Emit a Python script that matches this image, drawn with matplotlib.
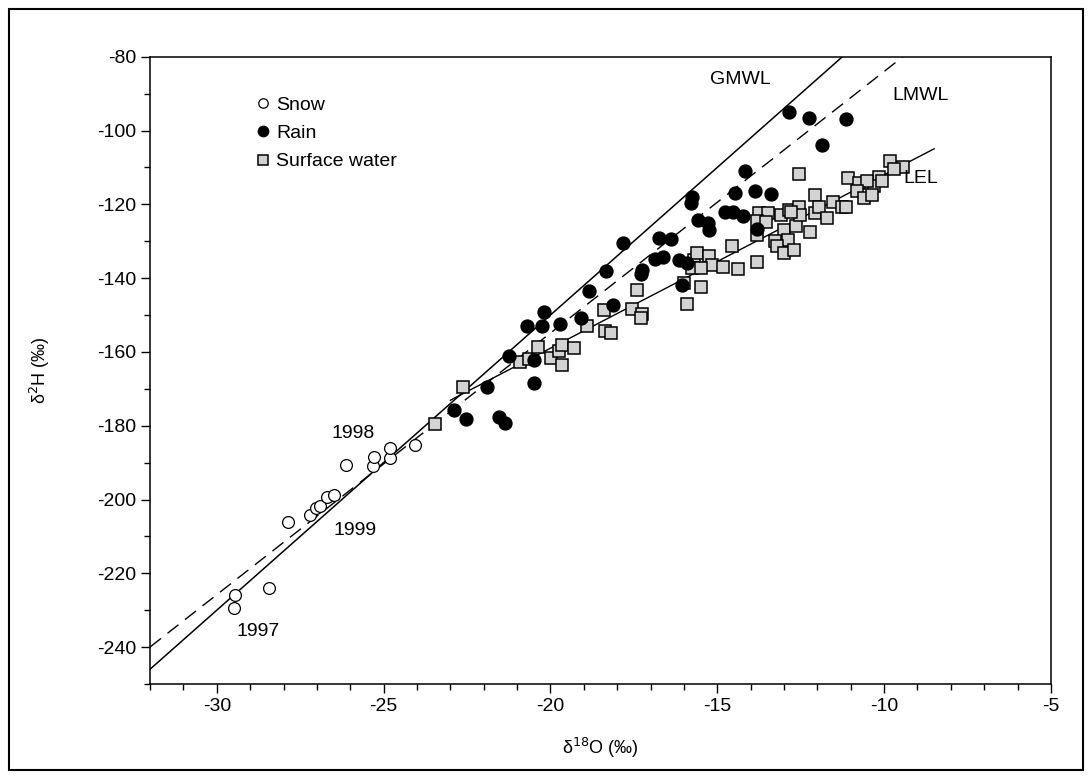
import numpy as np
import matplotlib.pyplot as plt
from matplotlib.patches import Rectangle

plt.rcParams['font.family'] = ['Liberation Sans', 'DejaVu Sans']
plt.rcParams['axes.unicode_minus'] = False

# snow samples (open circles)
snow_o18 = [-29.46, -29.49, -28.42, -27.88, -27.2, -27.04, -26.9, -26.71, -26.49,
            -26.14, -25.33, -25.28, -24.82, -24.8, -24.07]
snow_h2 = [-226.0, -229.3, -223.9, -206.0, -204.1, -202.3, -201.8, -199.3, -198.7,
           -190.7, -191.0, -188.6, -188.7, -186.0, -185.3]

# rain samples (filled circles)
rain_o18 = [-12.85, -12.26, -11.14, -11.86, -14.18, -15.77, -15.8, -14.48, -13.88,
            -13.38, -15.57, -15.27, -15.25, -14.77, -14.52, -14.22, -17.82, -16.74,
            -16.39, -16.86, -16.64, -16.16, -15.9, -18.34, -17.26, -17.29, -18.84,
            -19.09, -18.14, -20.2, -20.71, -20.24, -19.71, -21.23, -20.48, -20.48,
            -21.9, -22.88, -22.53, -21.53, -21.35, -16.05, -13.8]
rain_h2 = [-95.0, -96.5, -96.9, -103.9, -110.9, -117.9, -119.7, -116.8, -116.5,
           -117.2, -124.2, -125.1, -126.9, -122.0, -122.2, -123.1, -130.5, -129.2,
           -129.4, -134.8, -134.4, -135.0, -135.8, -138.2, -137.7, -139.0, -143.6,
           -150.8, -147.4, -149.3, -153.1, -153.1, -152.4, -161.0, -162.2, -168.4,
           -169.5, -175.7, -178.2, -177.7, -179.2, -141.8, -126.7]

# surface water samples (grey squares)
sw_o18 = [-23.45, -22.63, -20.91, -20.63, -20.38, -19.98, -19.73, -19.64, -19.64, -19.3,
          -18.9, -18.4, -18.35, -18.2, -17.55, -17.4, -17.27, -17.3, -16.0, -15.9,
          -15.48, -15.71, -15.6, -15.75, -15.25, -15.15, -15.5, -14.83, -14.38, -14.57,
          -13.8, -12.56, -12.06, -13.75, -13.47, -13.8, -13.53, -13.8, -13.1, -12.85,
          -12.56, -12.99, -12.64, -12.89, -13.26, -13.2, -13.0, -12.7, -12.23, -12.51,
          -12.06, -11.96, -11.72, -11.52, -11.27, -11.14, -11.09, -9.82, -9.43, -9.7,
          -10.16, -10.31, -10.07, -10.76, -10.51, -10.8, -10.61, -10.36, -12.78]
sw_h2 = [-179.5, -169.5, -162.7, -161.9, -158.7, -161.6, -159.8, -158.0, -163.5, -158.9,
         -153.1, -148.6, -154.4, -154.9, -148.4, -143.2, -149.7, -150.8, -141.2, -147.0,
         -142.5, -135.0, -133.1, -137.3, -134.0, -136.4, -137.3, -137.0, -137.5, -131.2,
         -135.5, -111.9, -117.4, -122.4, -122.4, -124.6, -124.9, -128.3, -122.9, -121.5,
         -120.6, -126.9, -126.0, -129.6, -130.0, -131.4, -133.1, -132.3, -127.6, -122.9,
         -122.4, -120.6, -123.7, -119.5, -120.6, -120.6, -112.9, -108.2, -109.8, -110.5,
         -112.5, -115.0, -113.8, -114.3, -113.8, -116.4, -118.3, -117.6, -122.2]

# reference lines: slope, intercept, x range
gmwl = (8.0, 10.0, -32, -11.25)
lmwl = (7.09, -13.1, -32, -9.4)
lel = (4.7, -65.0, -23.0, -8.5)

fig = plt.figure(figsize=(10.92, 7.77), dpi=100)
ax = fig.add_axes([0.1374, 0.1197, 0.825, 0.8073])

def line_pts(p):
    xs = np.array([p[2], p[3]])
    return xs, p[0] * xs + p[1]

x, y = line_pts(gmwl)
ax.plot(x, y, color='black', lw=1.1, zorder=1)
x, y = line_pts(lmwl)
ax.plot(x, y, color='black', lw=1.0, dashes=(10, 6), zorder=1)
x, y = line_pts(lel)
ax.plot(x, y, color='black', lw=1.0, zorder=1)

ax.plot(sw_o18, sw_h2, 's', ms=8.3, mfc='#d3d3d3', mec='black', mew=1.1,
        ls='none', zorder=2, label='Surface water')
ax.plot(rain_o18, rain_h2, 'o', ms=9.3, mfc='black', mec='black',
        ls='none', zorder=3, label='Rain')
ax.plot(snow_o18, snow_h2, 'o', ms=8.5, mfc='white', mec='black', mew=0.9,
        ls='none', zorder=3, label='Snow')

h, l = ax.get_legend_handles_labels()
leg = ax.legend(h[::-1], l[::-1], loc='upper left', bbox_to_anchor=(0.1, 0.965),
                frameon=False, fontsize=14, markerscale=0.8, handlelength=0.6,
                handletextpad=0.35, labelspacing=0.55)

fs = 14
ax.text(-14.3, -86.3, 'GMWL', fontsize=fs, ha='center', va='center')
ax.text(-8.9, -90.4, 'LMWL', fontsize=fs, ha='center', va='center')
ax.text(-8.9, -112.9, 'LEL', fontsize=fs, ha='center', va='center')
ax.text(-25.9, -182.2, '1998', fontsize=fs, ha='center', va='center')
ax.text(-25.85, -208.5, '1999', fontsize=fs, ha='center', va='center')
ax.text(-28.75, -235.9, '1997', fontsize=fs, ha='center', va='center')

ax.set_xlim(-32, -5)
ax.set_ylim(-250, -80)
ax.set_xticks([-30, -25, -20, -15, -10, -5])
ax.set_xticks(np.arange(-32, -4, 1), minor=True)
ax.set_yticks(np.arange(-240, -79, 20))
ax.set_yticks(np.arange(-250, -79, 10), minor=True)
ax.tick_params(which='major', direction='out', length=6.5, width=1, labelsize=fs)
ax.tick_params(which='minor', direction='out', length=4, width=1)
for s in ax.spines.values():
    s.set_linewidth(1.1)

ax.set_xlabel('δ$^{18}$O (‰)', fontsize=13, labelpad=15)
ax.set_ylabel('δ$^{2}$H (‰)', fontsize=13, labelpad=32)

# outer frame around the figure
fig.patches.append(Rectangle((0.008, 0.009), 0.984, 0.98, transform=fig.transFigure,
                             fill=False, edgecolor='black', lw=1.5))

fig.savefig('out.png', dpi=100)
